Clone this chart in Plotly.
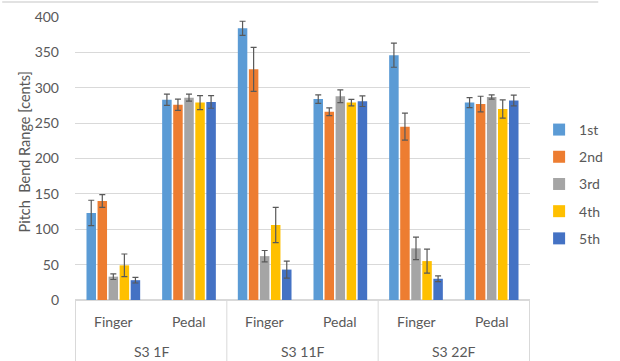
import plotly.graph_objects as go

groups = ["S3 1F", "S3 1F", "S3 11F", "S3 11F", "S3 22F", "S3 22F"]
subcats = ["Finger", "Pedal", "Finger", "Pedal", "Finger", "Pedal"]
group_labels = ["S3 1F", "S3 11F", "S3 22F"]
series_names = ["1st", "2nd", "3rd", "4th", "5th"]
colors = ["#5B9BD5", "#ED7D31", "#A5A5A5", "#FFC000", "#4472C4"]
y_title = "Pitch\u00a0 Bend Range [cents]"

v1st = [123, 283, 384, 284, 346, 279]
v2nd = [140, 276, 326, 266, 245, 277]
v3rd = [33, 286, 62, 288, 73, 287]
v4th = [49, 279, 106, 279, 55, 270]
v5th = [28, 280, 43, 281, 30, 282]

e1st = [18, 8, 10, 6, 17, 7]
e2nd = [9, 8, 31, 5.5, 19, 11]
e3rd = [4, 5, 8, 9, 16, 3]
e4th = [16, 10, 25, 4.5, 17, 13]
e5th = [4, 9, 12, 7.5, 4, 7.5]

values = [v1st, v2nd, v3rd, v4th, v5th]
errors = [e1st, e2nd, e3rd, e4th, e5th]

font_family = "Lato, 'Open Sans', sans-serif"
text_color = "#595959"
line_color = "#D9D9D9"

fig = go.Figure()
for name, col, vals, errs in zip(series_names, colors, values, errors):
    fig.add_trace(go.Bar(
        x=[groups, subcats],
        y=vals,
        name=name,
        legendgroup=name,
        marker=dict(color=col, line=dict(width=0)),
        error_y=dict(type="data", array=errs, visible=True,
                     color="#595959", thickness=1.2, width=3),
    ))

annotations = []
# sub-category labels (index positions on the category axis)
for i, lab in enumerate(subcats):
    annotations.append(dict(x=i, xref="x", y=-0.075, yref="paper",
                            text=lab, showarrow=False,
                            font=dict(size=14, color=text_color),
                            xanchor="center", yanchor="middle"))
# group labels
for j, lab in enumerate(group_labels):
    annotations.append(dict(x=2 * j + 0.5, xref="x", y=-0.183, yref="paper",
                            text=lab, showarrow=False,
                            font=dict(size=14, color=text_color),
                            xanchor="center", yanchor="middle"))
# y-axis title
annotations.append(dict(x=-0.112, xref="paper", y=0.525, yref="paper",
                        text=y_title, textangle=-90, showarrow=False,
                        font=dict(size=14.5, color=text_color),
                        xanchor="center", yanchor="middle"))

shapes = []
for k in range(len(group_labels) + 1):
    xb = 2 * k - 0.5
    shapes.append(dict(type="line", xref="x", x0=xb, x1=xb,
                       yref="paper", y0=0, y1=-0.23,
                       line=dict(color=line_color, width=1)))
# chart border line at top
shapes.append(dict(type="line", xref="paper", x0=-0.16, x1=1.15,
                   yref="paper", y0=1.053, y1=1.053,
                   line=dict(color=line_color, width=1.5)))

fig.update_layout(
    barmode="group",
    bargap=0.27,
    bargroupgap=0.14,
    width=620,
    height=361,
    margin=dict(l=75, r=73, t=17, b=61),
    paper_bgcolor="white",
    plot_bgcolor="white",
    font=dict(family=font_family, size=13, color=text_color),
    showlegend=True,
    legend=dict(
        x=1.02, xanchor="left", y=0.41, yanchor="middle",
        font=dict(size=14, color=text_color),
        itemwidth=30,
        tracegroupgap=6,
    ),
    annotations=annotations,
    shapes=shapes,
    yaxis=dict(
        range=[0, 400],
        dtick=50,
        automargin=False,
        showgrid=True,
        gridcolor=line_color,
        gridwidth=1,
        zeroline=True,
        zerolinecolor=line_color,
        showline=False,
        ticks="",
        ticklabelstandoff=15,
        tickfont=dict(size=14, color=text_color),
    ),
    xaxis=dict(
        type="multicategory",
        automargin=False,
        showticklabels=False,
        showline=True,
        linecolor=line_color,
        linewidth=1,
        showdividers=False,
        ticks="",
    ),
)

fig.write_html("out.html", config={"displayModeBar": False},
               post_script="document.body.style.margin='0';")
